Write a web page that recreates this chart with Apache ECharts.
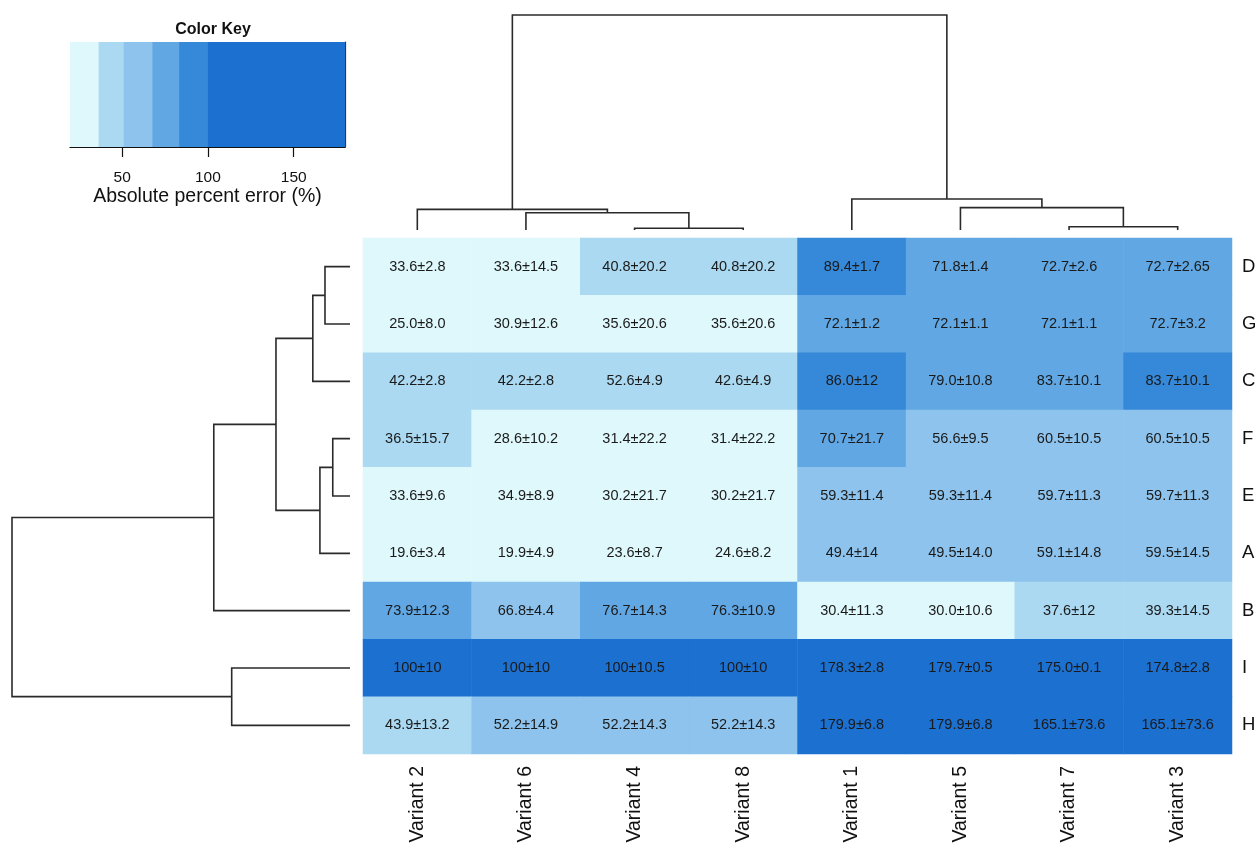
<!DOCTYPE html>
<html>
<head>
<meta charset="utf-8">
<script src="https://cdn.jsdelivr.net/npm/echarts@6/dist/echarts.min.js"></script>
<style>html,body{margin:0;padding:0;background:#fff;}#chart{width:1260px;height:848px;}</style>
</head>
<body>
<div id="chart"></div>
<script>
// ---- data ----
const colLabels = ['Variant 2','Variant 6','Variant 4','Variant 8','Variant 1','Variant 5','Variant 7','Variant 3'];
const rowLabels = ['D','G','C','F','E','A','B','I','H'];

// cell notes: mean ± sd as printed in each cell
const notesD = ['33.6±2.8','33.6±14.5','40.8±20.2','40.8±20.2','89.4±1.7','71.8±1.4','72.7±2.6','72.7±2.65'];
const notesG = ['25.0±8.0','30.9±12.6','35.6±20.6','35.6±20.6','72.1±1.2','72.1±1.1','72.1±1.1','72.7±3.2'];
const notesC = ['42.2±2.8','42.2±2.8','52.6±4.9','42.6±4.9','86.0±12','79.0±10.8','83.7±10.1','83.7±10.1'];
const notesF = ['36.5±15.7','28.6±10.2','31.4±22.2','31.4±22.2','70.7±21.7','56.6±9.5','60.5±10.5','60.5±10.5'];
const notesE = ['33.6±9.6','34.9±8.9','30.2±21.7','30.2±21.7','59.3±11.4','59.3±11.4','59.7±11.3','59.7±11.3'];
const notesA = ['19.6±3.4','19.9±4.9','23.6±8.7','24.6±8.2','49.4±14','49.5±14.0','59.1±14.8','59.5±14.5'];
const notesB = ['73.9±12.3','66.8±4.4','76.7±14.3','76.3±10.9','30.4±11.3','30.0±10.6','37.6±12','39.3±14.5'];
const notesI = ['100±10','100±10','100±10.5','100±10','178.3±2.8','179.7±0.5','175.0±0.1','174.8±2.8'];
const notesH = ['43.9±13.2','52.2±14.9','52.2±14.3','52.2±14.3','179.9±6.8','179.9±6.8','165.1±73.6','165.1±73.6'];

// colour-key value of each cell (absolute percent error read from the cell shade)
const shadeD = [33.6, 33.6, 40.8, 40.8, 89.4, 71.8, 72.7, 72.7];
const shadeG = [25.0, 30.9, 35.6, 35.6, 72.1, 72.1, 72.1, 72.7];
const shadeC = [42.2, 42.2, 48.0, 42.6, 86.0, 79.0, 82.0, 83.7];
const shadeF = [36.5, 28.6, 31.4, 31.4, 70.7, 56.6, 60.5, 60.5];
const shadeE = [33.6, 34.9, 30.2, 30.2, 59.3, 59.3, 59.7, 59.7];
const shadeA = [19.6, 19.9, 23.6, 24.6, 52.0, 52.0, 59.1, 59.5];
const shadeB = [73.9, 66.8, 76.7, 76.3, 30.4, 30.0, 37.6, 39.3];
const shadeI = [100, 100, 100, 100, 178.3, 179.7, 175.0, 174.8];
const shadeH = [43.9, 52.2, 52.2, 52.2, 179.9, 179.9, 165.1, 165.1];

// colour key
const keyBreaks = [19.6, 36.3, 50.9, 67.6, 83.2, 100, 179.9];
const keyColors = ['#DFF8FC', '#ABD9F1', '#8DC3EC', '#60A7E3', '#3688D9', '#1C70CF'];
const keyTicks = [50, 100, 150];

// dendrograms: [childA, childB, height]; strings = leaves, numbers = earlier merges
const colMerges = [
  ['Variant 4', 'Variant 8', 0.8],
  ['Variant 7', 'Variant 3', 1.5],
  ['Variant 6', 0, 8.0],
  ['Variant 2', 2, 9.6],
  ['Variant 5', 1, 10.4],
  ['Variant 1', 4, 14.4],
  [3, 5, 100]
];
const rowMerges = [
  ['F', 'E', 5.1],
  ['D', 'G', 7.4],
  [0, 'A', 8.9],
  [1, 'C', 11.0],
  [3, 2, 21.9],
  ['I', 'H', 35.0],
  [4, 'B', 40.3],
  [6, 5, 100]
];

// ---- build ----
const notes = [notesD, notesG, notesC, notesF, notesE, notesA, notesB, notesI, notesH];
const shades = [shadeD, shadeG, shadeC, shadeF, shadeE, shadeA, shadeB, shadeI, shadeH];
const heatData = [];
shades.forEach((row, r) => row.forEach((v, c) => heatData.push([c, r, v])));

const pieces = keyColors.map((col, i) => {
  const p = { color: col };
  if (i > 0) p.gte = keyBreaks[i];
  if (i < keyColors.length - 1) p.lt = keyBreaks[i + 1];
  return p;
});
const keyData = keyColors.map((col, i) => [keyBreaks[i], keyBreaks[i + 1], i]);

function dendroSegments(merges, leaves) {
  const nodes = [];
  const info = (ref) => typeof ref === 'string' ? { pos: leaves.indexOf(ref), h: 0 } : nodes[ref];
  const segs = [];
  merges.forEach(m => {
    const a = info(m[0]), b = info(m[1]);
    segs.push([a.pos, a.h, b.pos, b.h, m[2]]);
    nodes.push({ pos: (a.pos + b.pos) / 2, h: m[2] });
  });
  return segs;
}
const colSegs = dendroSegments(colMerges, colLabels);
const rowSegs = dendroSegments(rowMerges, rowLabels);

const FONT = 'Liberation Sans, Arial, Helvetica, sans-serif';
const LINE = { stroke: '#2a2a2a', lineWidth: 1.6, fill: null };

const chart = echarts.init(document.getElementById('chart'), null, { renderer: 'canvas' });
chart.setOption({
  animation: false,
  backgroundColor: '#ffffff',
  textStyle: { fontFamily: FONT },
  title: {
    text: 'Color Key', left: 208, top: 17, textAlign: 'center',
    textStyle: { fontSize: 16, fontWeight: 'bold', color: '#111', fontFamily: FONT }
  },
  grid: [
    { left: 70, top: 42, width: 275, height: 105 },
    { left: 363, top: 238, width: 869, height: 516 },
    { left: 363, top: 15, width: 869, height: 215 },
    { left: 12, top: 238, width: 338, height: 516 }
  ],
  visualMap: { type: 'piecewise', show: false, seriesIndex: 1, dimension: 2, pieces: pieces },
  xAxis: [
    {
      gridIndex: 0, type: 'value', min: keyBreaks[0], max: keyBreaks[keyBreaks.length - 1],
      axisLine: { show: true, lineStyle: { color: '#111', width: 1.2 } },
      axisTick: { show: true, customValues: keyTicks, length: 10, lineStyle: { color: '#111', width: 1.2 } },
      axisLabel: { show: true, customValues: keyTicks, fontSize: 15.5, color: '#111', margin: 23, fontFamily: FONT },
      splitLine: { show: false },
      name: 'Absolute percent error (%)', nameLocation: 'middle', nameGap: 37,
      nameTextStyle: { fontSize: 19.5, color: '#111', fontFamily: FONT }
    },
    {
      gridIndex: 1, type: 'category', data: colLabels,
      axisLine: { show: false }, axisTick: { show: false }, splitLine: { show: false },
      axisLabel: { rotate: 90, fontSize: 19.5, color: '#111', margin: 12, fontFamily: FONT }
    },
    { gridIndex: 2, type: 'value', min: -0.5, max: colLabels.length - 0.5, show: false },
    { gridIndex: 3, type: 'value', min: 0, max: 100, inverse: true, show: false }
  ],
  yAxis: [
    {
      gridIndex: 0, type: 'value', min: 0, max: 1, position: 'right',
      axisLine: { show: true, lineStyle: { color: '#111', width: 1.2 } },
      axisTick: { show: false }, axisLabel: { show: false }, splitLine: { show: false }
    },
    {
      gridIndex: 1, type: 'category', data: rowLabels, inverse: true, position: 'right',
      axisLine: { show: false }, axisTick: { show: false }, splitLine: { show: false },
      axisLabel: { fontSize: 18.5, color: '#111', margin: 10, fontFamily: FONT }
    },
    { gridIndex: 2, type: 'value', min: 0, max: 100, show: false },
    { gridIndex: 3, type: 'value', min: -0.5, max: rowLabels.length - 0.5, inverse: true, show: false }
  ],
  series: [
    {
      type: 'custom', xAxisIndex: 0, yAxisIndex: 0, data: keyData, silent: true,
      renderItem: (params, api) => {
        const p0 = api.coord([api.value(0), 1]);
        const p1 = api.coord([api.value(1), 0]);
        return { type: 'rect', shape: { x: p0[0], y: p0[1], width: p1[0] - p0[0] + 0.5, height: p1[1] - p0[1] },
                 style: { fill: keyColors[api.value(2)] } };
      }
    },
    {
      type: 'heatmap', xAxisIndex: 1, yAxisIndex: 1, data: heatData, silent: true,
      itemStyle: { borderWidth: 0 },
      label: {
        show: true, fontSize: 14.5, color: '#1a1a1a', fontFamily: FONT,
        formatter: (p) => notes[p.value[1]][p.value[0]]
      },
      emphasis: { disabled: true }
    },
    {
      type: 'custom', xAxisIndex: 2, yAxisIndex: 2, data: colSegs, silent: true,
      renderItem: (params, api) => {
        const a = api.value(0), ha = api.value(1), b = api.value(2), hb = api.value(3), h = api.value(4);
        return { type: 'polyline', shape: { points: [api.coord([a, ha]), api.coord([a, h]), api.coord([b, h]), api.coord([b, hb])] },
                 style: LINE };
      }
    },
    {
      type: 'custom', xAxisIndex: 3, yAxisIndex: 3, data: rowSegs, silent: true,
      renderItem: (params, api) => {
        const a = api.value(0), ha = api.value(1), b = api.value(2), hb = api.value(3), h = api.value(4);
        return { type: 'polyline', shape: { points: [api.coord([ha, a]), api.coord([h, a]), api.coord([h, b]), api.coord([hb, b])] },
                 style: LINE };
      }
    }
  ]
});
</script>
</body>
</html>
